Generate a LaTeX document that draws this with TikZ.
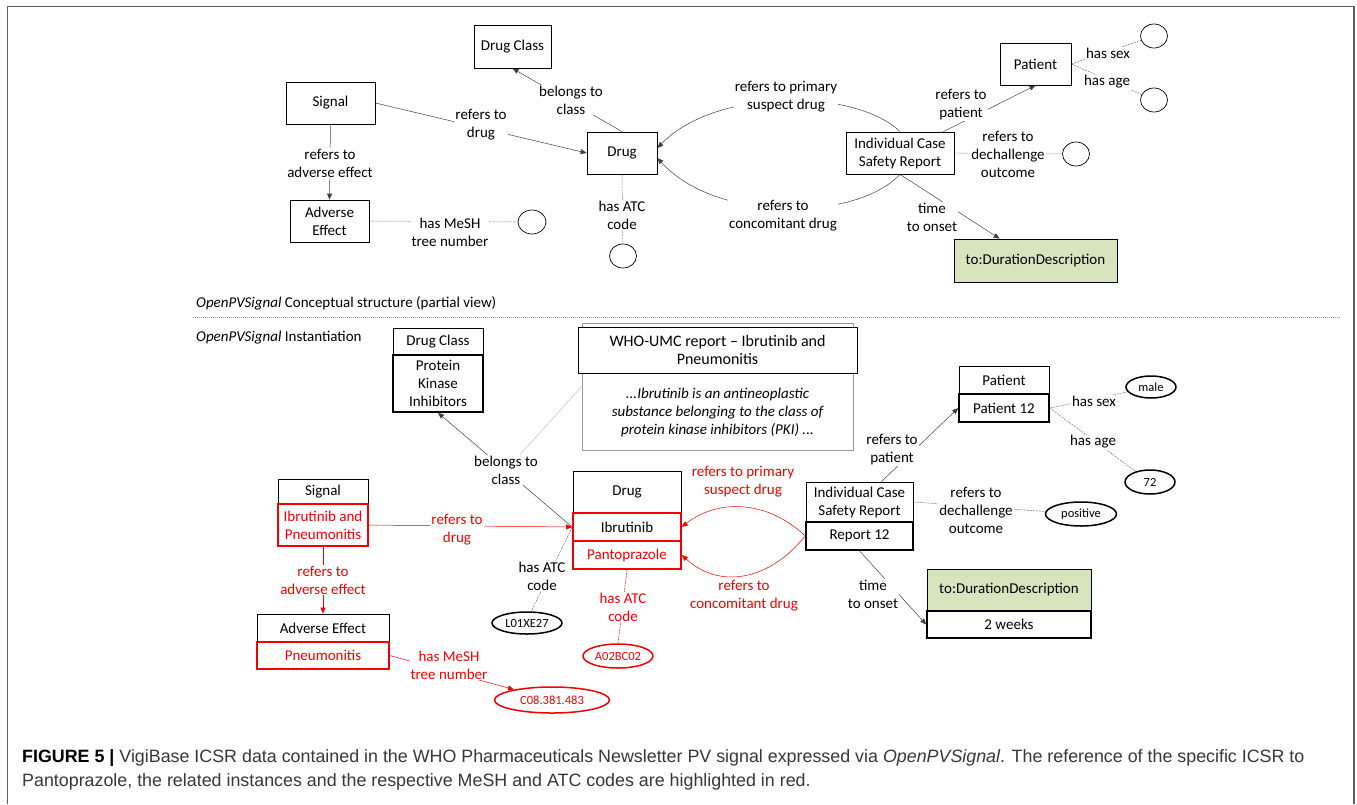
\documentclass[tikz,border=0pt]{standalone}
\usepackage{fontspec}
\setmainfont{Carlito}
\newfontfamily\capfont{Liberation Sans}
\usetikzlibrary{arrows.meta,shapes.geometric,calc}
\pgfdeclarelayer{bg}
\pgfsetlayers{bg,main}
\definecolor{pvred}{RGB}{245,0,0}
\definecolor{durgreen}{RGB}{215,228,189}
\definecolor{framegray}{RGB}{95,95,95}
\definecolor{captext}{RGB}{55,55,55}
\newcommand\fmain{\fontsize{15}{18}\selectfont}
\newcommand\fsmall{\fontsize{12.5}{14}\selectfont}
\newcommand\fhead{\fontsize{16}{18}\selectfont}
\newcommand\fcap{\fontsize{17.85}{20}\selectfont}
\tikzset{
 box/.style={draw, line width=0.8pt, fill=white, align=center, inner sep=0pt, font=\fmain},
 inst/.style={box, line width=1.6pt},
 redinst/.style={inst, draw=pvred},
 oval/.style={ellipse, draw, line width=0.7pt, inner sep=0pt, fill=white, font=\fsmall},
 instoval/.style={oval, line width=1.5pt},
 lbl/.style={fill=white, inner sep=1pt, align=center, font=\fmain},
 conn/.style={draw=black!75, line width=0.5pt},
 arr/.style={conn, -{Triangle[length=6pt,width=5pt]}},
 redarr/.style={arr, draw=pvred},
 dsh/.style={draw=black!55, line width=0.5pt, dash pattern=on 2pt off 1pt},
}
\begin{document}
\begin{tikzpicture}[x=1pt,y=-1pt]
\useasboundingbox (0,0) rectangle (1357,804);
% frame
\draw[framegray, line width=1.4pt] (7.5,804) -- (7.5,6.5) -- (1354,6.5) -- (1354,804);

% ---------- top: conceptual structure ----------
\node[box, minimum width=77, minimum height=43] (dc) at (512.5,46.5) {Drug Class};
\node[box, minimum width=89, minimum height=42] (sig) at (330.5,103) {Signal};
\node[box, minimum width=79, minimum height=42] (ae) at (329.5,221) {Adverse\\Effect};
\node[box, minimum width=70, minimum height=42] (drug) at (622,153) {Drug};
\node[oval, minimum width=27, minimum height=24] (atc) at (623,256) {};
\node[oval, minimum width=28, minimum height=24] (mesh) at (532,222) {};
\node[box, minimum width=108, minimum height=42] (icsr) at (900,153) {Individual Case\\Safety Report};
\node[box, minimum width=71, minimum height=42] (pat) at (1035.5,64) {Patient};
\node[oval, minimum width=27, minimum height=24] (sex) at (1154,36) {};
\node[oval, minimum width=27, minimum height=24] (age) at (1154,100) {};
\node[oval, minimum width=27, minimum height=24] (dech) at (1076,154) {};
\node[box, fill=durgreen, minimum width=163, minimum height=43] (dur) at (1035.5,260.5) {to:DurationDescription};

\node[lbl] (l1) at (571,100) {belongs to\\class};
\node[lbl] (l2) at (481,125) {refers to\\drug};
\node[lbl] (l3) at (330,163) {refers to\\adverse effect};
\node[lbl] (l4) at (450,232) {has MeSH\\tree number};
\node[lbl] (l5) at (622,215) {has ATC\\code};
\node[lbl] (l6) at (786,97) {refers to primary\\suspect drug};
\node[lbl] (l7) at (783,216) {refers to\\concomitant drug};
\node[lbl] (l8) at (961,105) {refers to\\patient};
\node[lbl] (l9) at (1008,154) {refers to\\dechallenge\\outcome};
\node[lbl] (l10) at (932,217) {time\\to onset};
\node[lbl] (l11) at (1108,53) {has sex};
\node[lbl] (l12) at (1107,82) {has age};

\begin{pgfonlayer}{bg}
\draw[arr] (drug.north) -- (dc.south);
\draw[arr] (sig.east) -- (drug.west);
\draw[arr] (sig.south) -- (ae.north);
\draw[dsh] (ae.east) -- (mesh);
\draw[dsh] (drug.south) -- (atc);
\draw[arr] (icsr.north) .. controls (855,88) and (715,88) .. (drug.8);
\draw[arr] (icsr.south) .. controls (855,222) and (715,222) .. (drug.-8);
\draw[arr] ($(icsr.north east)+(-11,0)$) -- (pat.south);
\draw[arr] (icsr.south) -- ($(dur.north west)+(46,0)$);
\draw[dsh] (icsr.east) -- (dech);
\draw[dsh] (pat.east) -- (sex);
\draw[dsh] (pat.east) -- (age);
\end{pgfonlayer}

% ---------- separator ----------
\node[anchor=west, inner sep=0pt, font=\fmain] (t1) at (196,303) {\textit{OpenPVSignal} Conceptual structure (partial view)};
\draw[black!45, line width=0.8pt, dash pattern=on 1pt off 1pt] (193,317.5) -- (1340,317.5);
\node[anchor=west, inner sep=0pt, font=\fmain] (t2) at (196,338) {\textit{OpenPVSignal} Instantiation};

% ---------- bottom: instantiation ----------
\node[box, minimum width=90, minimum height=27] (dc2h) at (438,341.5) {Drug Class};
\node[inst, minimum width=90, minimum height=57] (dc2b) at (438,383.5) {Protein\\Kinase\\Inhibitors};

\node[draw=black!40, line width=0.7pt, fill=white, minimum width=271, minimum height=127, inner sep=0pt] (who) at (717.5,386.5) {};
\node[box, font=\fhead, minimum width=279, minimum height=46] (whoh) at (717.5,350) {WHO-UMC report -- Ibrutinib and\\Pneumonitis};
\node[align=center, font=\fmain\itshape, inner sep=0pt] (whot) at (717.5,412) {...Ibrutinib is an antineoplastic\\substance belonging to the class of\\protein kinase inhibitors (PKI) ...};

\node[box, minimum width=90, minimum height=25] (sig2h) at (323,491.5) {Signal};
\node[redinst, text=pvred, minimum width=90, minimum height=42] (sig2b) at (323,525) {Ibrutinib and\\Pneumonitis};
\node[box, minimum width=132, minimum height=28] (ae2h) at (323,628) {Adverse Effect};
\node[redinst, text=pvred, minimum width=132, minimum height=27] (ae2b) at (323,655.5) {Pneumonitis};

\node[box, minimum width=108, minimum height=42] (drug2h) at (627,492) {Drug};
\node[redinst, minimum width=108, minimum height=28] (ibr) at (627,527) {Ibrutinib};
\node[redinst, text=pvred, minimum width=108, minimum height=28] (pan) at (627,555) {Pantoprazole};

\node[instoval, draw=pvred, text=pvred, minimum width=115, minimum height=26] (mesh2) at (552,700) {C08.381.483};
\node[instoval, minimum width=70, minimum height=22] (atc2a) at (527,623) {L01XE27};
\node[instoval, draw=pvred, text=pvred, minimum width=70, minimum height=24] (atc2b) at (618,656) {A02BC02};

\node[box, minimum width=107, minimum height=40] (icsr2h) at (859.5,502) {Individual Case\\Safety Report};
\node[inst, minimum width=107, minimum height=28] (rep) at (859.5,536) {Report 12};
\node[box, minimum width=90, minimum height=28] (pat2h) at (1004,380) {Patient};
\node[inst, minimum width=90, minimum height=28] (pat2b) at (1004,408) {Patient 12};
\node[instoval, minimum width=50, minimum height=22] (male) at (1151,387) {male};
\node[instoval, minimum width=50, minimum height=24] (age72) at (1150,482) {72};
\node[instoval, minimum width=71, minimum height=24] (pos) at (1081,514) {positive};
\node[box, fill=durgreen, minimum width=164, minimum height=42] (dur2h) at (1009,590) {to:DurationDescription};
\node[inst, minimum width=164, minimum height=27] (dur2b) at (1009,624.5) {2 weeks};

\node[lbl] (b1) at (506,470) {belongs to\\class};
\node[lbl, text=pvred] (b2) at (457,530) {refers to\\drug};
\node[lbl, text=pvred] (b3) at (323,580) {refers to\\adverse effect};
\node[lbl, text=pvred] (b4) at (449,665) {has MeSH\\tree number};
\node[lbl] (b5) at (542,576) {has ATC\\code};
\node[lbl, text=pvred] (b6) at (623,607) {has ATC\\code};
\node[lbl, text=pvred] (b7) at (743,482) {refers to primary\\suspect drug};
\node[lbl, text=pvred] (b8) at (744,596) {refers to\\concomitant drug};
\node[lbl] (b9) at (892,450) {refers to\\patient};
\node[lbl] (b10) at (976,510) {refers to\\dechallenge\\outcome};
\node[lbl] (b11) at (873,594) {time\\to onset};
\node[lbl] (b12) at (1094,401) {has sex};
\node[lbl] (b13) at (1093,442) {has age};

\begin{pgfonlayer}{bg}
\draw[arr] (ibr.west) -- (dc2b.south);
\draw[black!25, line width=0.5pt] (who.west) -- (b1);
\draw[redarr] (sig2b.east) -- (ibr.west);
\draw[redarr] (sig2b.south) -- (ae2h.north);
\draw[redarr] (ae2b.east) -- (mesh2);
\draw[dsh] (ibr.west) -- (atc2a.70);
\draw[dsh, draw=pvred] (pan.south) -- (atc2b.north);
\draw[redarr] (rep.west) .. controls (770,502) and (720,497) .. (ibr.east);
\draw[redarr] (rep.west) .. controls (770,580) and (720,590) .. (pan.east);
\draw[arr] ($(icsr2h.north)+(22,0)$) -- (pat2b.west);
\draw[dsh] (icsr2h.east) -- (pos);
\draw[dsh] (pat2b.east) -- (male);
\draw[dsh] (pat2b.east) -- (age72);
\draw[arr] (rep.south) -- (dur2b.west);
\end{pgfonlayer}

% ---------- caption ----------
\node[anchor=west, inner sep=0pt, font=\capfont\fcap, text=captext] (cap1) at (22,758) {\textbf{\color{black}FIGURE 5 |} VigiBase ICSR data contained in the WHO Pharmaceuticals Newsletter PV signal expressed via \textit{OpenPVSignal}. The reference of the specific ICSR to};
\node[anchor=west, inner sep=0pt, font=\capfont\fcap, text=captext] (cap2) at (22,782) {Pantoprazole, the related instances and the respective MeSH and ATC codes are highlighted in red.};
\end{tikzpicture}
\end{document}
